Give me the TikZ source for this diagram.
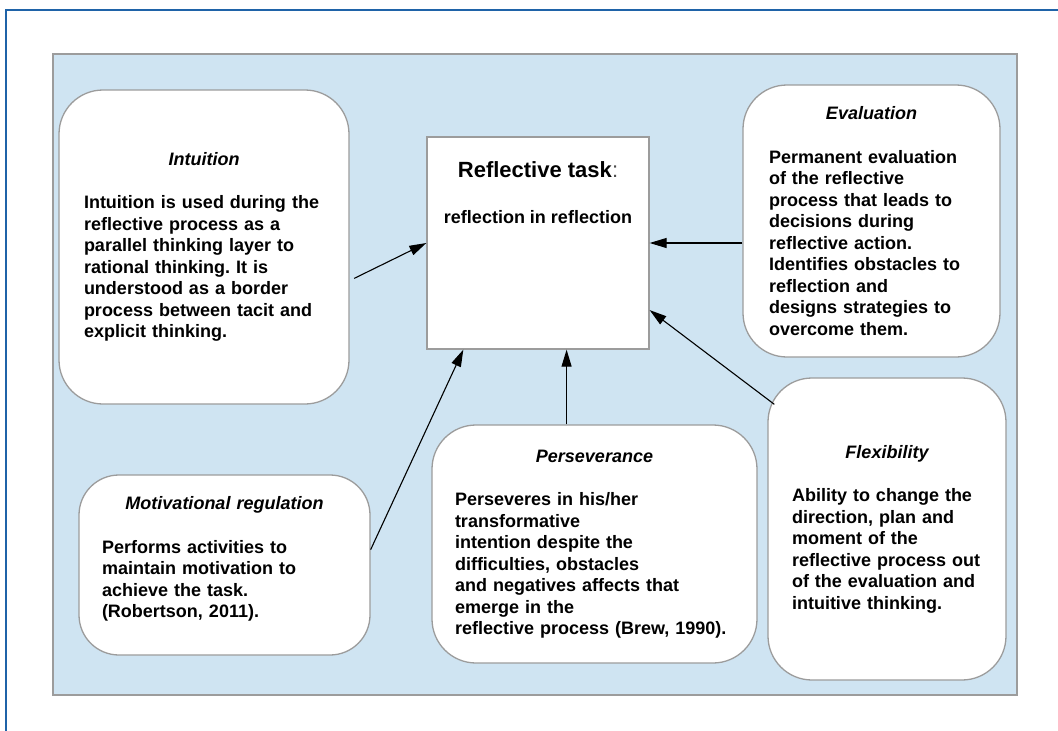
\documentclass[tikz,border=0pt]{standalone}
\usepackage{fontspec}
\setmainfont{Liberation Sans}
\usetikzlibrary{arrows.meta,positioning,calc}
\frenchspacing

\definecolor{framblue}{HTML}{1F63A8}
\definecolor{panelblue}{HTML}{CFE4F2}
\definecolor{edgegray}{HTML}{9C9C9C}

\tikzset{
  card/.style={shape=rectangle,draw=edgegray,fill=white,line width=1.3pt,rounded corners=44pt,
    align=left,font=\fontsize{18}{21.5}\selectfont\bfseries},
  flow/.style={-{Triangle[length=17pt,width=10pt]},line width=1.1pt,black}
}
\newcommand{\cardtitle}[1]{\makebox[\linewidth][c]{\itshape #1}\\[22pt]}

\begin{document}
\begin{tikzpicture}[x=1pt,y=-1pt]
            \useasboundingbox (0,0) rectangle (1058,731);
            % frame and panel
            \draw[framblue,line width=1.5pt] (6,740) -- (6,10) -- (1070,10);
            \draw[draw=edgegray,fill=panelblue,line width=1.3pt] (53,54) rectangle (1017,695);

            % boxes
            \node[shape=rectangle,draw=edgegray,fill=white,line width=1.3pt,minimum width=222pt,minimum height=212pt] (task) at (538,243) {};
            \node[font=\fontsize{22}{26}\selectfont\bfseries,below=22pt of task.north] (tasktitle) {Reflective task\textmd{\color{black!70}:}};
            \node[font=\fontsize{18}{21.5}\selectfont\bfseries,below=25pt of tasktitle] (tasksub) {reflection in reflection};

            \node[card,text width=240pt,inner xsep=25pt,minimum height=314pt] (intuition) at (204,247) {\cardtitle{Intuition}
              Intuition is used during the\\ reflective process as a\\ parallel thinking layer to\\ rational thinking. It is\\ understood as a border\\ process between tacit and\\ explicit thinking.};
            \node[card,text width=205pt,inner xsep=26pt,minimum height=272pt] (evaluation) at (871.5,221) {\cardtitle{Evaluation}
              Permanent evaluation\\ of the reflective\\ process that leads to\\ decisions during\\ reflective action.\\ Identifies obstacles to\\ reflection and\\ designs strategies to\\ overcome them.};
            \node[card,text width=245pt,inner xsep=23pt,minimum height=180pt,rounded corners=40pt] (motivation) at (224.5,565) {\cardtitle{Motivational regulation}
              Performs activities to\\ maintain motivation to\\ achieve the task.\\ (Robertson, 2011).\rule[-16pt]{0pt}{1pt}};
            \node[card,text width=279pt,inner xsep=23pt,minimum height=238pt] (perseverance) at (594.5,544) {\cardtitle{Perseverance}
              Perseveres in his/her\\ transformative\\ intention despite the\\ difficulties, obstacles\\ and negatives affects that\\ emerge in the\\ reflective process (Brew, 1990).};
            \node[card,text width=190pt,inner xsep=24pt,minimum height=302pt] (flexibility) at (887,529) {\cardtitle{Flexibility}
              Ability to change the\\ direction, plan and\\ moment of the\\ reflective process out\\ of the evaluation and\\ intuitive thinking.};

            % arrows
            \draw[flow,shorten <=5pt] (intuition.-13) -- (task.west);
            \draw[flow] (evaluation.west |- task.east) -- (task.east);
            \draw[flow] ($(flexibility.north west)+(7,27)$) -- (task.-31);
            \draw[flow] (perseverance.north -| task.-75) -- (task.-75);
            \draw[flow] (motivation.6) -- (task.-125);
\end{tikzpicture}
\end{document}
